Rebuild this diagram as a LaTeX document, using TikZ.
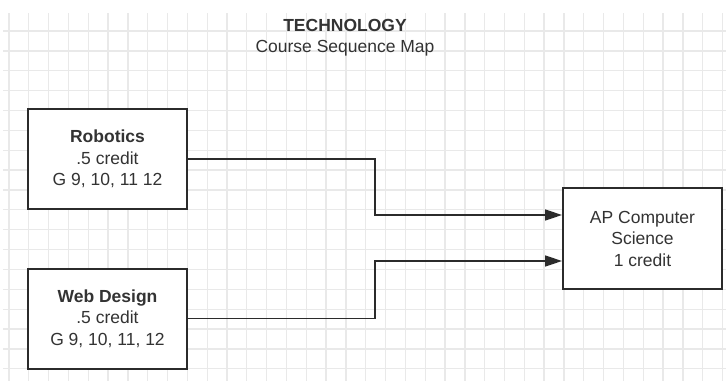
\documentclass[tikz,border=0pt]{standalone}
\usepackage{fontspec}
\setmainfont{Liberation Sans}
\usetikzlibrary{arrows.meta}
\definecolor{txt}{HTML}{333333}
\definecolor{edge}{HTML}{2B2B2B}
\definecolor{gridc}{HTML}{E9E9E9}
\begin{document}
\begin{tikzpicture}[x=1pt,y=-1pt,
  gridline/.style={draw=gridc,line width=1.3pt},
  coursebox/.style={draw=edge,line width=2pt,fill=white,minimum width=159pt,minimum height=100pt,inner sep=0pt,align=center,text=txt,font=\fontsize{17.5}{21.5}\selectfont},
  titletext/.style={align=center,text=txt,font=\fontsize{17.5}{21}\selectfont},
  conn/.style={draw=edge,line width=1.6pt,-{Triangle[length=17pt,width=11pt]}}]
\useasboundingbox (0,0) rectangle (726,381);
\fill[white] (0,0) rectangle (726,381);
% grid
\foreach \i in {0,...,36} {\draw[gridline] ({9+19.82*\i},13) -- ({9+19.82*\i},381);}
\foreach \j in {0,...,17} {\draw[gridline] (3,{31+19.87*\j}) -- (726,{31+19.87*\j});}
% title
\node[titletext] (title) at (345,38) {\textbf{TECHNOLOGY}\\Course Sequence Map};
% boxes
\node[coursebox] (rob) at (107.5,159) {\textbf{Robotics}\\.5 credit\\G 9, 10, 11 12};
\node[coursebox] (web) at (107.5,318.5) {\textbf{Web Design}\\.5 credit\\G 9, 10, 11, 12};
\node[coursebox,minimum height=101pt] (ap) at (642.5,238.5) {AP Computer\\Science\\1 credit};
% connectors
\coordinate (b1) at (375,215);
\coordinate (b2) at (375,261);
\draw[conn] (rob.east) -| (b1) -- (ap.west |- b1);
\draw[conn] (web.east) -| (b2) -- (ap.west |- b2);
\end{tikzpicture}
\end{document}
